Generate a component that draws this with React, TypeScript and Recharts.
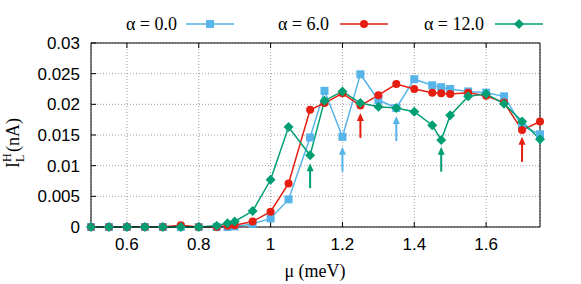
import React from "react";
import { LineChart, Line, XAxis, YAxis, CartesianGrid, ReferenceDot } from "recharts";

// chemical potential (meV)
const mu = [0.5, 0.55, 0.6, 0.65, 0.7, 0.75, 0.8, 0.85, 0.88, 0.9, 0.95, 1.0, 1.05, 1.11, 1.15, 1.2, 1.25, 1.3, 1.35, 1.4, 1.45, 1.475, 1.5, 1.55, 1.6, 1.65, 1.7, 1.75];

// I_L^H (nA) for each alpha
const alpha0 = [0, 0, 0, 0, 0, 0, 0, 0, 0, 0.0001, 0.0005, 0.0014, 0.0045, 0.0146, 0.0222, 0.0147, 0.0249, 0.0207, 0.0194, 0.0241, 0.0231, 0.0228, 0.0225, 0.0221, 0.0219, 0.0213, 0.0165, 0.0151];
const alpha6 = [0, 0, 0, 0, 0, 0.0003, 0, 0, 0.0002, 0.0003, 0.0009, 0.0025, 0.0071, 0.0191, 0.0202, 0.0218, 0.0198, 0.0215, 0.0233, 0.0225, 0.0219, 0.0218, 0.0217, 0.0219, 0.0214, 0.0203, 0.0158, 0.0172];
const alpha12 = [0, 0, 0, 0, 0, 0, 0, 0.0002, 0.0006, 0.0009, 0.0026, 0.0077, 0.0163, 0.0117, 0.0206, 0.0221, 0.0202, 0.0196, 0.0194, 0.0188, 0.0166, 0.0142, 0.0182, 0.0213, 0.0217, 0.0201, 0.0172, 0.0143];

// arrows: x position, tip value, series colour key
const arrowX = [1.11, 1.2, 1.25, 1.35, 1.475, 1.7];
const arrowTip = [0.0104, 0.0131, 0.0186, 0.0181, 0.0131, 0.0147];
const arrowKey = ["a12", "a0", "a6", "a0", "a12", "a6"];

const xTicks = [0.6, 0.8, 1, 1.2, 1.4, 1.6];
const yTicks = [0, 0.005, 0.01, 0.015, 0.02, 0.025, 0.03];

const COLORS: any = { a0: "#56b4e9", a6: "#e51e10", a12: "#009e73" };

const data = mu.map((m, i) => ({ mu: m, a0: alpha0[i], a6: alpha6[i], a12: alpha12[i] }));

const SANS = "'Liberation Sans', Arial, sans-serif";
const SERIF = "'Liberation Serif', 'Times New Roman', serif";

const square = (p: any) => (
  <rect key={p.index} x={p.cx - 4} y={p.cy - 4} width={8} height={8} fill={COLORS.a0} />
);
const circle = (p: any) => <circle key={p.index} cx={p.cx} cy={p.cy} r={4} fill={COLORS.a6} />;
const diamond = (p: any) => (
  <path
    key={p.index}
    d={`M${p.cx},${p.cy - 5}L${p.cx + 5},${p.cy}L${p.cx},${p.cy + 5}L${p.cx - 5},${p.cy}Z`}
    fill={COLORS.a12}
  />
);

const arrow = (color: string) => (p: any) => (
  <g>
    <line x1={p.cx} y1={p.cy + 6} x2={p.cx} y2={p.cy + 25} stroke={color} strokeWidth={2} />
    <path d={`M${p.cx - 3.5},${p.cy + 8}L${p.cx},${p.cy}L${p.cx + 3.5},${p.cy + 8}Z`} fill={color} />
  </g>
);

function LegendOverlay() {
  const items = [
    { label: "α = 0.0", key: "a0", tx: 177, x1: 186, x2: 234 },
    { label: "α = 6.0", key: "a6", tx: 329, x1: 340, x2: 388 },
    { label: "α = 12.0", key: "a12", tx: 484, x1: 495, x2: 543 },
  ];
  const y = 24;
  return (
    <svg width={581} height={284} style={{ position: "absolute", left: 0, top: 0, pointerEvents: "none" }}>
      {items.map((it) => {
        const c = COLORS[it.key];
        const mx = (it.x1 + it.x2) / 2;
        return (
          <g key={it.key}>
            <text x={it.tx} y={y + 6} textAnchor="end" fontFamily={SERIF} fontSize={18} fill="#000">
              {it.label}
            </text>
            <line x1={it.x1} y1={y} x2={it.x2} y2={y} stroke={c} strokeWidth={1.5} />
            {it.key === "a0" && square({ cx: mx, cy: y })}
            {it.key === "a6" && circle({ cx: mx, cy: y })}
            {it.key === "a12" && diamond({ cx: mx, cy: y })}
          </g>
        );
      })}
      <g transform="translate(0,137) rotate(-90)" fontFamily={SERIF} fill="#000">
        <text x={-31} y={19} fontSize={18}>I</text>
        <text x={-25} y={11} fontSize={12}>H</text>
        <text x={-25} y={24} fontSize={12}>L</text>
        <text x={-15} y={19} fontSize={18}>(nA)</text>
      </g>
      <text x={315} y={277} textAnchor="middle" fontFamily={SERIF} fontSize={18} fill="#000">
        μ (meV)
      </text>
    </svg>
  );
}

export default function App() {
  return (
    <div style={{ position: "relative", width: 581, height: 284 }}>
      <style>{"body{margin:0}"}</style>
      <LineChart width={581} height={284} data={data} margin={{ top: 42, right: 40, bottom: 27, left: 31 }}>
        <CartesianGrid stroke="#a0a0a0" strokeDasharray="1 2" />
        <XAxis
          dataKey="mu"
          type="number"
          domain={[0.5, 1.75]}
          ticks={xTicks}
          height={30}
          stroke="#000"
          tickSize={-5}
          tickMargin={16}
          tick={{ fontFamily: SANS, fontSize: 17, fill: "#000" }}
        />
        <XAxis
          xAxisId="top"
          orientation="top"
          dataKey="mu"
          type="number"
          domain={[0.5, 1.75]}
          ticks={xTicks}
          height={1}
          stroke="#000"
          tickSize={-5}
          tickFormatter={() => ""}
        />
        <YAxis
          type="number"
          domain={[0, 0.03]}
          ticks={yTicks}
          width={60}
          stroke="#000"
          tickSize={-5}
          tickMargin={16}
          tick={{ fontFamily: SANS, fontSize: 17, fill: "#000" }}
        />
        <YAxis
          yAxisId="right"
          orientation="right"
          type="number"
          domain={[0, 0.03]}
          ticks={yTicks}
          width={1}
          stroke="#000"
          tickSize={-5}
          tickFormatter={() => ""}
        />
        <Line dataKey="a0" stroke={COLORS.a0} strokeWidth={1.5} dot={square} activeDot={false} isAnimationActive={false} />
        <Line dataKey="a6" stroke={COLORS.a6} strokeWidth={1.5} dot={circle} activeDot={false} isAnimationActive={false} />
        <Line dataKey="a12" stroke={COLORS.a12} strokeWidth={1.5} dot={diamond} activeDot={false} isAnimationActive={false} />
        {arrowX.map((x, i) => (
          <ReferenceDot key={i} x={x} y={arrowTip[i]} shape={arrow(COLORS[arrowKey[i]])} />
        ))}
      </LineChart>
      <LegendOverlay />
    </div>
  );
}
